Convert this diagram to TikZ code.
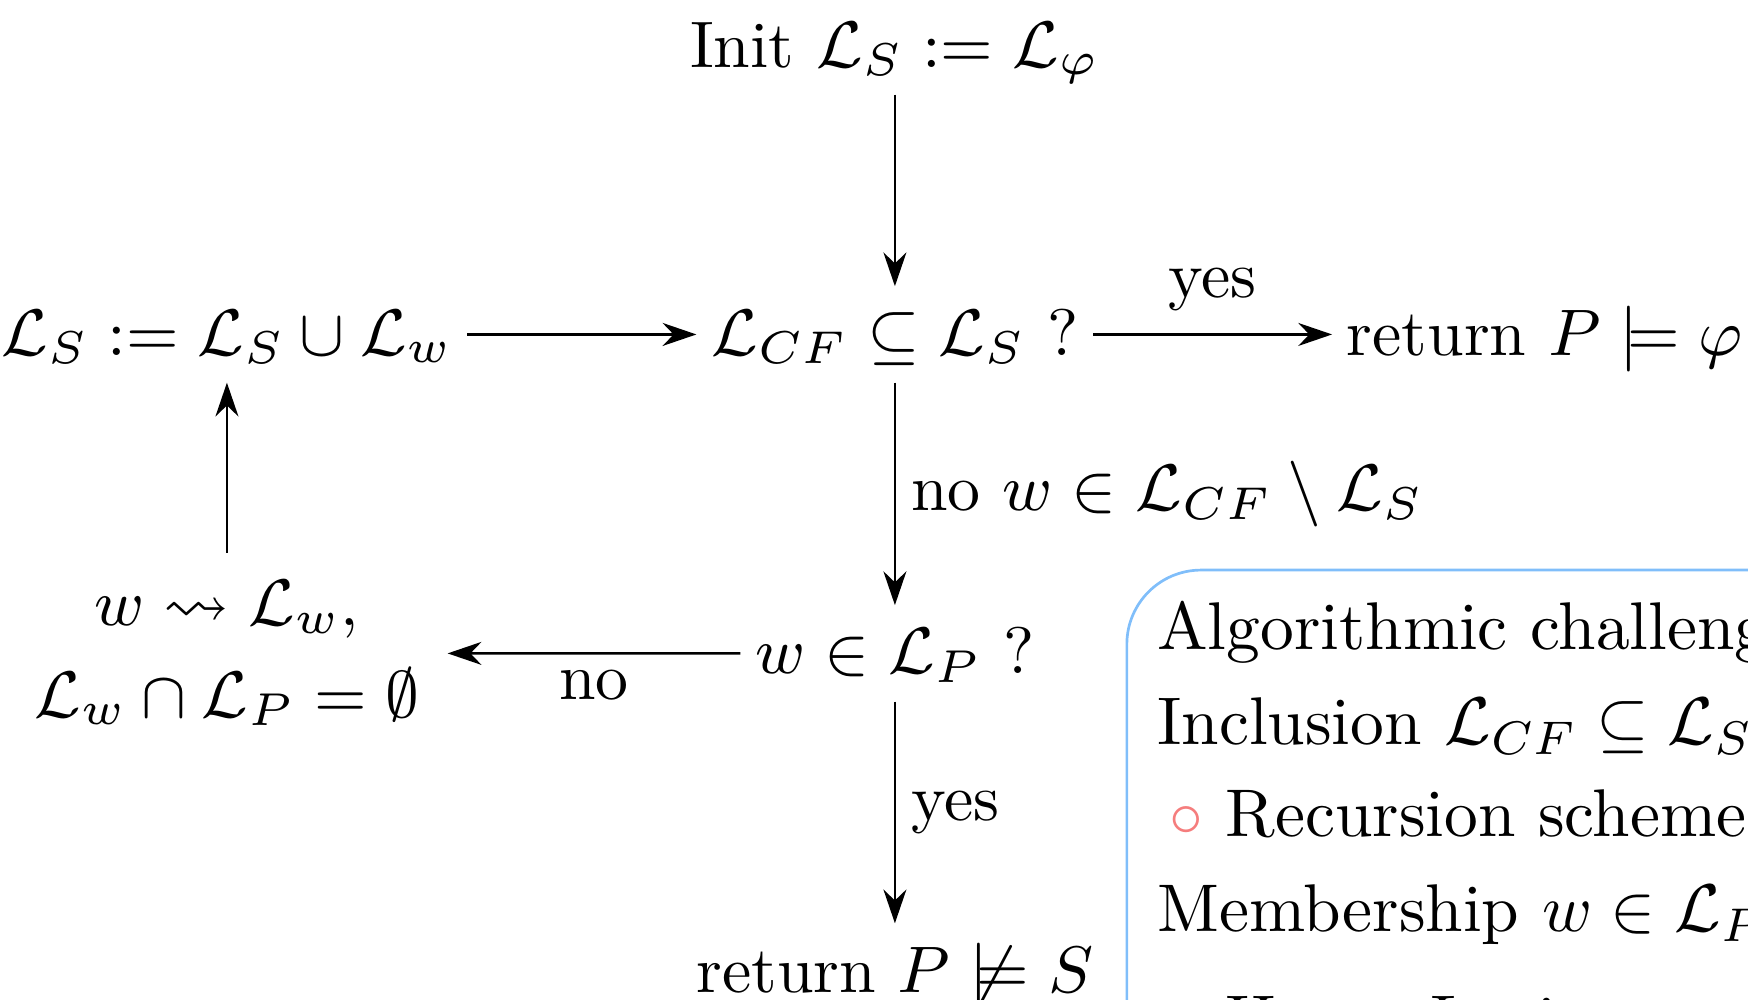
\RequirePackage{fix-cm}
\documentclass[tikz,border=0pt]{standalone}
\usepackage{amssymb}
\usetikzlibrary{arrows.meta}
\definecolor{azulcaja}{RGB}{128,190,250}
\definecolor{rojoitem}{RGB}{245,125,125}
\tikzset{paso/.style={inner xsep=2pt, inner ysep=2pt, text height=8pt, text depth=1.9pt, anchor=base,
    font=\fontsize{9.75pt}{11.7pt}\selectfont},
  rama/.style={inner sep=2.2pt, font=\fontsize{9.75pt}{11.7pt}\selectfont},
  nota/.style={anchor=base west, inner sep=0pt}}

\begin{document}
\begin{tikzpicture}[>={Stealth[length=5pt,width=3.4pt]}]
  \useasboundingbox (-4.661,-3.354) rectangle (4.443,1.849);
  \clip (-4.661,-3.354) rectangle (4.443,1.849);

  % flujo principal
  \node[paso] (init)  at (0,1.5)       {Init $\mathcal{L}_S := \mathcal{L}_\varphi$};
  \node[paso] (incl)  at (0,0)         {$\mathcal{L}_{CF} \subseteq \mathcal{L}_S$ ?};
  \node[paso] (union) at (-3.479,0)    {$\mathcal{L}_S := \mathcal{L}_S \cup \mathcal{L}_w$};
  \node[paso] (okphi) at (3.385,0)     {return $P \models \varphi$};
  \node[paso] (memb)  at (0,-1.661)    {$w \in \mathcal{L}_P$ ?};
  \node[paso] (falla) at (0,-3.318)    {return $P \not\models S$};
  \node[align=center, inner sep=4pt, font=\fontsize{9.75pt}{11.7pt}\selectfont] (nuevo) at (-3.479,-1.554)
    {$w \rightsquigarrow \mathcal{L}_w$,\\[1.8pt] $\mathcal{L}_w \cap \mathcal{L}_P = \emptyset$};

  \draw[->] (init) -- (incl);
  \draw[->] (union) -- (incl);
  \draw[->] (incl) -- node[rama, above, inner sep=3.3pt] (si1) {yes} (okphi);
  \draw[->] (incl) -- node[rama, right] (no1) {no $w \in \mathcal{L}_{CF} \setminus \mathcal{L}_S$} (memb);
  \draw[->] (memb) -- node[rama, below] (no2) {no} (nuevo);
  \draw[->] (nuevo) -- (union);
  \draw[->] (memb) -- node[rama, right] (si2) {yes} (falla);

  % recuadro
  \draw[azulcaja, rounded corners=11pt] (1.208,-1.120) rectangle (6,-5);
  \node[nota] (n1) at (1.359,-1.536) {Algorithmic challenges};
  \node[nota] (n2) at (1.359,-2.026) {Inclusion $\mathcal{L}_{CF} \subseteq \mathcal{L}_S$};
  \node[nota] (n3) at (1.359,-2.505) {\hspace{1.8pt}{\color{rojoitem}$\circ$} Recursion schemes};
  \node[nota] (n4) at (1.359,-3.000) {Membership $w \in \mathcal{L}_P$};
  \node[nota] (n5) at (1.359,-3.582) {\hspace{1.8pt}{\color{rojoitem}$\circ$} Hyper Lexicographic};
\end{tikzpicture}
\end{document}
